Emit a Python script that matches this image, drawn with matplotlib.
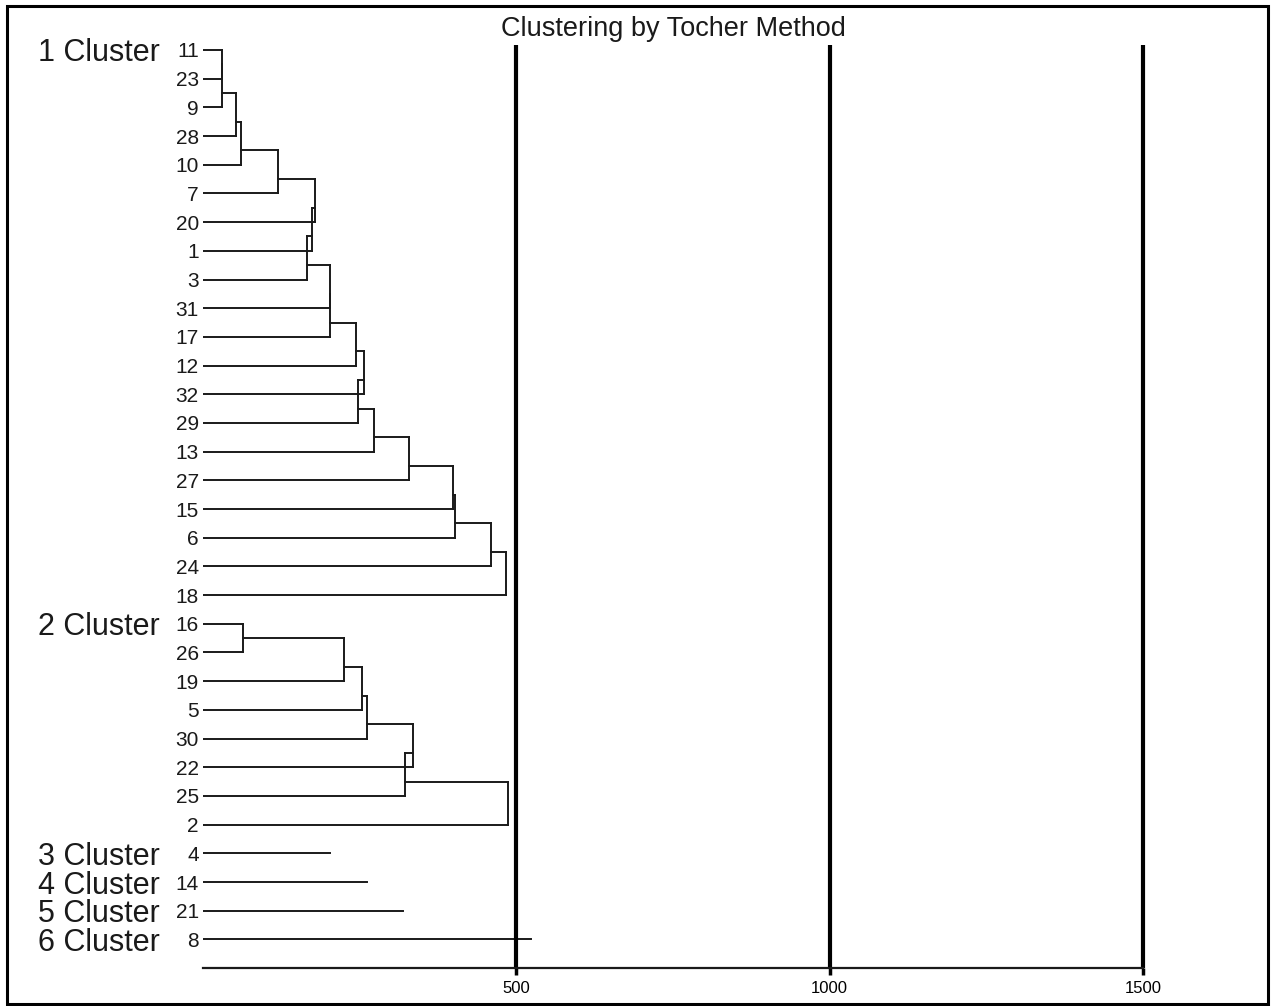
import matplotlib
matplotlib.use("Agg")
import matplotlib.pyplot as plt
from matplotlib.patches import Rectangle
from matplotlib.transforms import blended_transform_factory

plt.rcParams["font.family"] = ["Liberation Sans", "DejaVu Sans"]

# Tocher clusters: leaf order (top to bottom) and the distance at which
# each following genotype joins the group
cluster1_leaves = [11, 23, 9, 28, 10, 7, 20, 1, 3, 31, 17, 12, 32, 29, 13, 27, 15, 6, 24, 18]
cluster1_heights = [30, 30, 52, 61, 120, 179, 174, 166, 203, 203, 244, 257, 248, 273, 329, 399, 402, 460, 484]

cluster2_leaves = [16, 26, 19, 5, 30, 22, 25, 2]
cluster2_heights = [64, 225, 254, 262, 335, 323, 487]

# single-member clusters and their line lengths
single_leaves = [4, 14, 21, 8]
single_lengths = [203, 262, 319, 524]

cluster_names = ["1 Cluster", "2 Cluster", "3 Cluster", "4 Cluster", "5 Cluster", "6 Cluster"]
x_ticks = [500, 1000, 1500]
title = "Clustering by Tocher Method"

# layout (pixels of the 1272x1006 canvas)
W, H = 1272, 1006
ROW0, ROW_STEP = 50, 28.69
AX_L, AX_R, AX_T, AX_B = 203, 1143, 36, 976
LINE_C = "#1a1a1a"


def chain_segments(ys, heights):
    """Sequential (caterpillar) joins: each leaf joins the running group."""
    hs, vs = [], []
    node_y, node_h = ys[0], 0
    for k in range(1, len(ys)):
        h = heights[k - 1]
        hs.append((node_y, node_h, h))
        hs.append((ys[k], 0, h))
        vs.append((h, node_y, ys[k]))
        node_y = (ys[k - 1] + ys[k]) / 2
        node_h = h
    return hs, vs


def main():
    fig = plt.figure(figsize=(W / 100, H / 100), dpi=100)
    ax = fig.add_axes([AX_L / W, 1 - AX_B / H, (AX_R - AX_L) / W, (AX_B - AX_T) / H])

    leaves = cluster1_leaves + cluster2_leaves + single_leaves
    n = len(leaves)
    ax.set_xlim(0, 1500)
    ax.set_ylim((AX_B - ROW0) / ROW_STEP, (AX_T - ROW0) / ROW_STEP)

    hs, vs = [], []
    start = 0
    for lv, ht in [(cluster1_leaves, cluster1_heights), (cluster2_leaves, cluster2_heights)]:
        ys = list(range(start, start + len(lv)))
        h, v = chain_segments(ys, ht)
        hs += h
        vs += v
        start += len(lv)
    for i, length in enumerate(single_lengths):
        hs.append((start + i, 0, length))

    for y, x0, x1 in hs:
        ax.plot([x0, x1], [y, y], color=LINE_C, lw=1.4, solid_capstyle="projecting")
    for x, y0, y1 in vs:
        ax.plot([x, x], [y0, y1], color=LINE_C, lw=1.4, solid_capstyle="projecting")

    # thick reference lines
    top = (45 - ROW0) / ROW_STEP
    ax.vlines(x_ticks, top, n, color="black", lw=3, clip_on=False)

    # axis
    for s in ["left", "top", "right"]:
        ax.spines[s].set_visible(False)
    ax.spines["bottom"].set_position(("data", n))
    ax.spines["bottom"].set_linewidth(1.6)
    ax.spines["bottom"].set_color(LINE_C)
    ax.set_xticks(x_ticks)
    ax.tick_params(axis="x", direction="out", length=5, width=2.5, pad=4,
                   labelsize=12, colors="black")
    for lab in ax.get_xticklabels():
        lab.set_x(lab.get_position()[0])
    ax.set_yticks(range(n))
    ax.set_yticklabels([str(v) for v in leaves])
    ax.tick_params(axis="y", length=0, pad=3, labelsize=15, colors="#1a1a1a")

    # cluster names
    trans = blended_transform_factory(fig.transFigure, ax.transData)
    first_rows = [0, len(cluster1_leaves), len(cluster1_leaves) + len(cluster2_leaves)]
    first_rows += [first_rows[-1] + i for i in range(1, len(single_leaves))]
    for name, row in zip(cluster_names, first_rows):
        ax.text(38 / W, row, name, transform=trans, fontsize=22, ha="left",
                va="center_baseline", color="#1a1a1a")

    fig.text(673 / W, 1 - 29 / H, title, fontsize=19.5, ha="center", va="center",
             color="#1a1a1a")

    fig.patches.append(Rectangle((7 / W, 1 - 1004 / H), (1268 - 7) / W, (1004 - 6) / H,
                                 transform=fig.transFigure, fill=False,
                                 edgecolor="black", lw=2.2))

    fig.savefig("out.png", dpi=100, facecolor="white")
    plt.close(fig)


if __name__ == "__main__":
    main()
